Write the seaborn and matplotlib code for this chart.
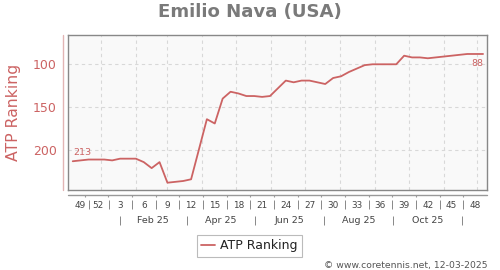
import numpy as np
import pandas as pd
import matplotlib
matplotlib.use("Agg")
import matplotlib.pyplot as plt
import seaborn as sns
from matplotlib.transforms import blended_transform_factory

# ---------------- data ----------------
start_date = "2024-12-21"
ranking = [213, 212, 211, 211, 211, 212, 210, 210, 210, 214,
           221, 214, 238, 237, 236, 234, 199, 164, 169, 140,
           132, 134, 137, 137, 138, 137, 128, 119, 121, 119,
           119, 121, 123, 116, 114, 109, 105, 101, 100, 100,
           100, 100, 90, 92, 92, 93, 92, 91, 90, 89,
           88, 88, 88]
week_labels = ["49", "52", "3", "6", "9", "12", "15", "18", "21", "24",
               "27", "30", "33", "36", "39", "42", "45", "48"]
month_labels = ["Feb 25", "Apr 25", "Jun 25", "Aug 25", "Oct 25"]
month_bounds = ["2025-02-01", "2025-04-01", "2025-06-01", "2025-08-01",
                "2025-10-01", "2025-12-01"]
y_ticks = [100, 150, 200]

RED = "#cc6363"
GRAY_TXT = "#444444"

dates = pd.date_range(start_date, periods=len(ranking), freq="7D")
df = pd.DataFrame({"date": dates, "ATP Ranking": ranking})

sns.set_theme(style="white")
plt.rcParams["font.family"] = ["DejaVu Sans"]

fig = plt.figure(figsize=(5, 2.7), dpi=100)
ax = fig.add_axes([0.136, 0.2963, 0.838, 0.574])
ax.set_facecolor("#f9f9f9")

sns.lineplot(data=df, x="date", y="ATP Ranking", ax=ax, color=RED,
             lw=1.3, label="ATP Ranking")

ax.set_xlim(dates[0] - pd.Timedelta(days=4.2), dates[0] + pd.Timedelta(days=367.5))
ax.set_ylim(246.5, 65.9)

# grid
ax.set_yticks(y_ticks)
grid_x = pd.date_range("2025-01-01", periods=12, freq="MS") + pd.Timedelta(days=14)
ax.set_xticks(grid_x)
ax.set_xticklabels([])
ax.grid(True, ls=(0, (3, 3)), color="#d8d8d8", lw=0.8)
ax.tick_params(axis="x", length=0)
ax.tick_params(axis="y", length=0, pad=7.9, labelcolor=RED, labelsize=9)
ax.set_xlabel("")
ax.set_ylabel("ATP Ranking", color=RED, fontsize=11.3)
ax.yaxis.set_label_coords(-0.112, 0.5)

for s in ax.spines.values():
    s.set_color("#888888")
    s.set_linewidth(1.0)

# pink left axis line
ax.plot([-0.0112, -0.0112], [0, 1], transform=ax.transAxes, color="#e2b4b4",
        lw=1.0, clip_on=False)

# lower axis line
bt = blended_transform_factory(ax.transData, ax.transAxes)
ax.plot([0, 1], [-0.030, -0.030], transform=ax.transAxes, color="#999999",
        lw=1.0, clip_on=False)

anchor = pd.Timestamp("2025-02-01")
nominal = [anchor + pd.Timedelta(days=21 * (k - 2)) for k in range(len(week_labels))]
label_pos = list(nominal)
label_pos[0] = label_pos[0] + pd.Timedelta(days=7)
label_pos[1] = label_pos[1] + pd.Timedelta(days=1.5)
ticks_lo = [nominal[k] + (nominal[k + 1] - nominal[k]) / 2 for k in range(len(nominal) - 1)]
seps = [label_pos[k] + (label_pos[k + 1] - label_pos[k]) / 2 for k in range(len(label_pos) - 1)]

ax.vlines(ticks_lo, -0.030, -0.045, transform=bt, color="#999999", lw=0.8, clip_on=False)
ax.vlines(seps, -0.065, -0.123, transform=bt, color="#888888", lw=0.7, clip_on=False)
for p, t in zip(label_pos, week_labels):
    ax.text(p, -0.100, t, transform=bt, ha="center", va="center",
            fontsize=6.4, color=GRAY_TXT, clip_on=False)

mb = pd.to_datetime(month_bounds)
ax.vlines(mb, -0.168, -0.226, transform=bt, color="#888888", lw=0.7, clip_on=False)
for i, t in enumerate(month_labels):
    mid = mb[i] + (mb[i + 1] - mb[i]) / 2
    ax.text(mid, -0.194, t, transform=bt, ha="center", va="center",
            fontsize=6.8, color=GRAY_TXT, clip_on=False)

# annotations
ax.annotate(str(ranking[0]), xy=(dates[0], ranking[0]), xytext=(0.5, 3),
            textcoords="offset points", ha="left", va="bottom",
            fontsize=6.8, color=RED)
ax.annotate(str(ranking[-1]), xy=(dates[-1], ranking[-1]), xytext=(0, -3.5),
            textcoords="offset points", ha="right", va="top",
            fontsize=6.8, color=RED)

# legend
leg = ax.legend(loc="center", bbox_to_anchor=(249.5 / 500, 1 - 246 / 270),
                bbox_transform=fig.transFigure, fontsize=9, frameon=True,
                fancybox=False, handlelength=1.1, handletextpad=0.4,
                borderpad=0.35, borderaxespad=0)
leg.get_frame().set_edgecolor("#aaaaaa")
leg.get_frame().set_linewidth(0.8)
for t in leg.get_texts():
    t.set_color("#222222")

fig.text(0.5, 1 - 16.7 / 270, "Emilio Nava (USA)", ha="center", va="baseline",
         fontsize=13.1, fontweight="bold", color="#7a7a7a")
fig.text(488 / 500, 1 - 265.2 / 270, "\u00a9 www.coretennis.net, 12-03-2025",
         ha="right", va="center", fontsize=6.7, color="#555555")

fig.savefig("out.png", dpi=100)
